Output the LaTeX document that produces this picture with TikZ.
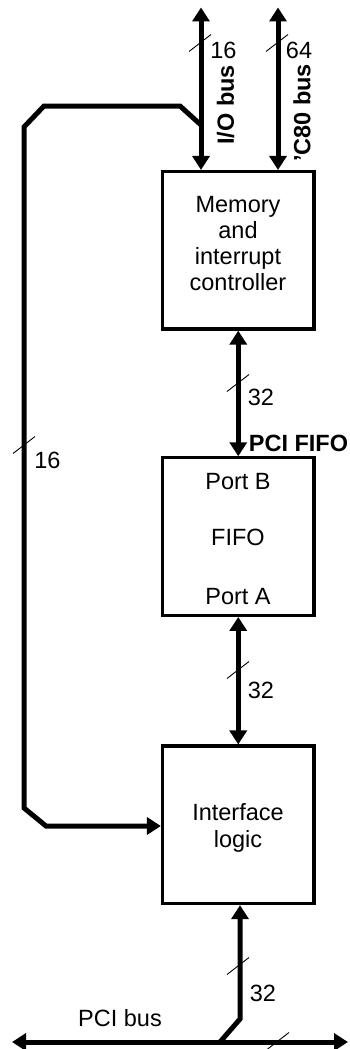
\documentclass[tikz,border=0pt]{standalone}
\usepackage{fontspec}
\setmainfont{Liberation Sans}
\usetikzlibrary{arrows.meta}
\begin{document}
\begin{tikzpicture}[x=1pt,y=-1pt,
  >={Triangle[length=14pt,width=17pt]},
  box/.style={draw,line width=3.2pt,minimum width=151.5pt,minimum height=157.5pt,inner sep=0pt},
  bus/.style={line width=5pt},
  slash/.style={line width=0.9pt},
  lbl/.style={font=\fontsize{23.5}{26.3}\selectfont,inner sep=0pt,align=center},
  blbl/.style={font=\fontsize{23.5}{26.3}\selectfont\bfseries,inner sep=0pt}
]
\useasboundingbox (0,0) rectangle (350,1049);

% boxes
\node[box] (mem) at (238.25,250.3) {};
\node[box] (fifo) at (238.25,536.6) {};
\node[box] (intf) at (238.25,824.8) {};

% box texts
\node[lbl] (memtxt) at (238,243.5) {Memory\\and\\interrupt\\controller};
\node[lbl] (portb) at (238,482) {Port B};
\node[lbl] (fifotxt) at (238,537.5) {FIFO};
\node[lbl] (porta) at (238,597) {Port A};
\node[lbl] (intftxt) at (238,828) {Interface\\logic};

% top buses
\coordinate (iotop) at (201,7.5);
\coordinate (c80top) at (278,7.5);
\draw[bus,<->] (iotop) -- (iotop |- mem.north);
\draw[bus,<->] (c80top) -- (c80top |- mem.north);

% loop from I/O bus to interface logic
\coordinate (ioj) at (201,125);
\coordinate (l1) at (180,106);
\coordinate (l2) at (44,106);
\coordinate (l3) at (24,127);
\coordinate (l4) at (24,808);
\coordinate (l5) at (46,826);
\draw[bus,->] (ioj) -- (l1) -- (l2) -- (l3) -- (l4) -- (l5) -- (l5 -| intf.west);

% memory <-> fifo, fifo <-> interface
\draw[bus,<->] (mem.south) -- (fifo.north);
\draw[bus,<->] (fifo.south) -- (intf.north);

% PCI bus
\coordinate (pcil) at (12,1042);
\coordinate (pcir) at (348,1042);
\coordinate (pj) at (220,1042);
\coordinate (pb) at (240,1019);
\draw[bus,<->] (pcil) -- (pcir);
\draw[bus,->] (pj) -- (pb) -- (pb |- intf.south);

% slash marks
\coordinate (s1) at (200,43);
\coordinate (s2) at (277,43);
\coordinate (s3) at (24,445);
\coordinate (s4) at (238,383);
\coordinate (s5) at (238,670);
\coordinate (s6) at (238,966);
\coordinate (s7) at (278,1041);
\foreach \s in {s1,s2,s3,s4,s5,s6,s7}
  \draw[slash] ([shift={(-11,8.5)}]\s) -- ([shift={(11,-8.5)}]\s);

% labels
\node[lbl] (n16a) at (223.5,50) {16};
\node[lbl] (n64) at (299,50) {64};
\node[blbl,rotate=90] (iobus) at (225.5,105) {I/O bus};
\node[blbl,rotate=90] (c80bus) at (302,113) {’C80 bus};
\node[lbl] (n16b) at (47.5,460) {16};
\node[lbl] (n32a) at (261,397) {32};
\node[blbl] (pcififo) at (298.5,443) {PCI FIFO};
\node[lbl] (n32b) at (261,690) {32};
\node[lbl] (n32c) at (263,993) {32};
\node[lbl] (pcibus) at (120,1018) {PCI bus};
\end{tikzpicture}
\end{document}
